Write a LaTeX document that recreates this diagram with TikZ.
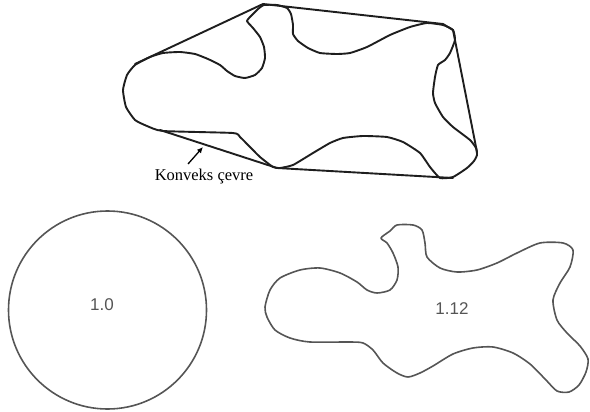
\documentclass[tikz,border=0pt]{standalone}
\usepackage{fontspec}
\setmainfont{Liberation Serif}
\newfontfamily\numfont{Liberation Sans}
\usetikzlibrary{arrows.meta}
\definecolor{inkdark}{HTML}{1E1E1E}
\definecolor{inkgray}{HTML}{555555}
\begin{document}
\begin{tikzpicture}[x=1pt,y=-1pt,
  topline/.style={draw=inkdark,line width=1.9pt,line join=round,line cap=round},
  lowline/.style={draw=inkgray,line width=1.6pt,line join=round},
  numlabel/.style={font=\numfont\fontsize{17}{20}\selectfont,text=inkgray,inner sep=0pt},
  caption/.style={font=\fontsize{16.5}{19}\selectfont,text=black,inner sep=0pt}]
\useasboundingbox (0,0) rectangle (590,412);
% top blob
\draw[topline] plot[smooth cycle,tension=0.3] coordinates {
 (123,90) (127,75) (135,65) (150,57) (163,53) (180,52) (195,54) (208,59)
 (220,65) (227,71) (235,76) (245,78) (255,75) (262,68) (265,58) (264,47)
 (260,37) (253,28) (247,21) (252,15) (258,9) (264,5) (277,5) (287,8)
 (291,14) (293,25) (293,34) (298,41) (308,48) (320,53) (337,54) (350,53)
 (367,47) (390,35) (410,27) (427,23) (443,25) (453,30) (455,40) (450,53)
 (445,60) (438,65) (435,77) (433,93) (435,103) (443,117) (453,127) (470,140)
 (476,148) (477,155) (474,161) (467,168) (453,177) (440,178) (430,167) (420,153)
 (403,142) (387,137) (363,136) (343,138) (330,143) (313,153) (293,165) (280,168)
 (273,167) (260,157) (250,147) (240,137) (233,133) (163,131) (147,126) (135,120)
 (126,107)};
% convex hull
\coordinate (h1) at (135,64);
\coordinate (h2) at (263,4);
\coordinate (h3) at (443,24);
\coordinate (h4) at (453,30);
\coordinate (h5) at (477,152);
\coordinate (h6) at (453,178);
\coordinate (h7) at (277,168);
\coordinate (h8) at (160,130);
\draw[topline] (h1) -- (h2) -- (h3) -- (h4) -- (h5);
\draw[topline] (h6) -- (h7) -- (h8);
% caption and arrow
\node[caption] (cap) at (204,177) {Konveks çevre};
\coordinate (atail) at (188,164);
\coordinate (ahead) at (203,147);
\draw[line width=1.3pt,-{Latex[length=6pt,width=5.5pt]}] (atail) -- (ahead);
% circle
\node[lowline,circle,minimum size=198pt,inner sep=0pt] (circ) at (107.5,310) {};
\node[numlabel] (n1) at (102,305) {1.0};
% right blob
\draw[lowline] plot[smooth cycle,tension=0.45] coordinates {
 (265,307) (270,290) (280,278) (300,270) (320,268) (340,273) (357,282) (367,290)
 (377,293) (390,290) (397,280) (398,267) (393,253) (387,243) (381,238) (390,231)
 (397,225) (413,225) (422,230) (425,243) (427,257) (440,268) (457,272) (477,270)
 (497,263) (517,253) (540,243) (563,243) (573,250) (570,267) (560,283) (553,300)
 (557,320) (567,333) (580,346) (588,359) (586,372) (579,385) (569,392) (557,391)
 (546,380) (530,364) (513,353) (493,347) (473,348) (453,354) (433,366) (420,373)
 (408,377) (397,373) (383,363) (373,350) (363,343) (350,342) (310,342) (290,338)
 (275,330) (267,317)};
\node[numlabel] (n2) at (452,309) {1.12};
\end{tikzpicture}
\end{document}
